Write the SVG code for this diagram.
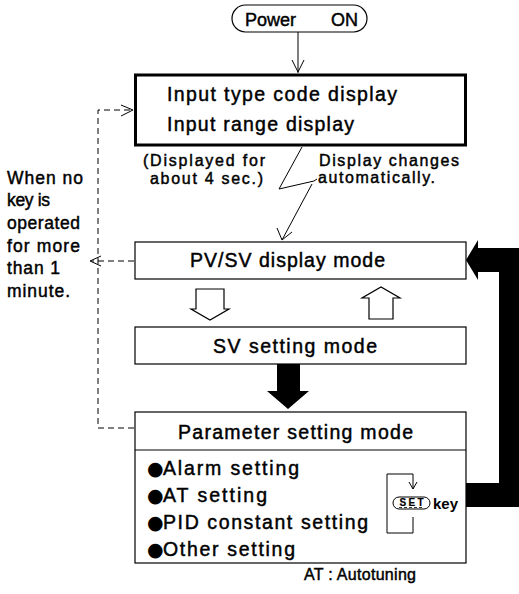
<svg xmlns="http://www.w3.org/2000/svg" width="519" height="594" viewBox="0 0 519 594">
<style>
text{font-family:"Liberation Sans",Arial,sans-serif;fill:#000;stroke:#000;stroke-width:0.45}
.b{font-size:19.5px}
.p{font-size:18px}
.s{font-size:16px}
.l{font-size:17.5px}
.dot{font-family:"DejaVu Sans",sans-serif;font-size:19px;stroke-width:0}
.box{fill:#fff;stroke:#000;stroke-width:1.2}
.ln{fill:none;stroke:#000;stroke-width:1}
.dash{fill:none;stroke:#000;stroke-width:1;stroke-dasharray:6 4}
.hollow{fill:#fff;stroke:#000;stroke-width:1.2}
</style>
<rect width="519" height="594" fill="#fff"/>
<g id="power-on">
<rect x="232" y="5" width="135" height="27" rx="13.5" class="box"/>
<text class="p" y="26"><tspan x="245">Power</tspan><tspan> </tspan><tspan x="331">ON</tspan></text>
</g>
<g id="input-display">
<rect x="135.5" y="75" width="330" height="70" fill="#fff" stroke="#000" stroke-width="3"/>
<text class="b" x="167" y="101" textLength="230" lengthAdjust="spacing">Input type code display</text>
<text class="b" x="167" y="131" textLength="187" lengthAdjust="spacing">Input range display</text>
</g>
<g id="notes">
<text class="s" x="143" y="166" textLength="122" lengthAdjust="spacing">(Displayed for</text>
<text class="s" x="150" y="184" textLength="113" lengthAdjust="spacing">about 4 sec.)</text>
<text class="s" x="319" y="166" textLength="140" lengthAdjust="spacing">Display changes</text>
<text class="s" x="318" y="183" textLength="117" lengthAdjust="spacing">automatically.</text>
</g>
<g id="timeout-note">
<text class="l" x="7" y="184" textLength="76" lengthAdjust="spacing">When no</text>
<text class="l" x="7" y="206" textLength="43" lengthAdjust="spacing">key is</text>
<text class="l" x="7" y="229" textLength="73" lengthAdjust="spacing">operated</text>
<text class="l" x="7" y="252" textLength="73" lengthAdjust="spacing">for more</text>
<text class="l" x="7" y="274" textLength="53" lengthAdjust="spacing">than 1</text>
<text class="l" x="7" y="297" textLength="63" lengthAdjust="spacing">minute.</text>
</g>
<g id="pv-sv-display">
<rect x="135" y="242" width="331" height="37" class="box"/>
<text class="b" x="190" y="267" textLength="195" lengthAdjust="spacing">PV/SV display mode</text>
</g>
<g id="sv-setting">
<rect x="135" y="327" width="331" height="37" class="box"/>
<text class="b" x="213" y="353" textLength="164" lengthAdjust="spacing">SV setting mode</text>
</g>
<g id="parameter-setting">
<rect x="135" y="412" width="331" height="151" class="box"/>
<line x1="135" y1="450" x2="466" y2="450" stroke="#000" stroke-width="1"/>
<text class="b" x="178" y="439" textLength="235" lengthAdjust="spacing">Parameter setting mode</text>
<text class="b" y="475"><tspan class="dot" x="147">●</tspan><tspan x="163" textLength="136" lengthAdjust="spacing">Alarm setting</tspan></text>
<text class="b" y="502"><tspan class="dot" x="147">●</tspan><tspan x="163" textLength="104" lengthAdjust="spacing">AT setting</tspan></text>
<text class="b" y="529"><tspan class="dot" x="147">●</tspan><tspan x="163" textLength="205" lengthAdjust="spacing">PID constant setting</tspan></text>
<text class="b" y="556"><tspan class="dot" x="147">●</tspan><tspan x="163" textLength="132" lengthAdjust="spacing">Other setting</tspan></text>
</g>
<g id="set-key">
<path class="ln" d="M413 489 V474 H387 V533 H413 V517"/>
<path class="ln" d="M409 482 L413 489 L417 482"/>
<rect x="393" y="497" width="37" height="12" rx="6" fill="#fff" stroke="#000" stroke-width="1"/>
<line x1="399" y1="507.5" x2="424" y2="507.5" stroke="#000" stroke-width="0.8" stroke-dasharray="3 2"/>
<text x="411.5" y="506" text-anchor="middle" style="font-size:10px;font-weight:bold;stroke-width:0.2" textLength="24" lengthAdjust="spacing">SET</text>
<text x="433" y="509" style="font-size:15px;font-weight:bold;stroke-width:0" textLength="25" lengthAdjust="spacing">key</text>
</g>
<g id="legend">
<text class="s" x="304" y="580" textLength="112" lengthAdjust="spacing">AT : Autotuning</text>
</g>
<g id="connectors">
<path class="ln" d="M298 32 V73 M292 60 L298 72 L304 60"/>
<path class="ln" d="M302 147 L279 189 L314 181 L317 179 M312 184 L282 240 M277 228 L282 240 L292 232"/>
<path class="dash" d="M134 428 H98 V110 H131"/>
<path class="ln" d="M121 105 L133 110 L121 116"/>
<path class="dash" d="M134 261 H92"/>
<path class="ln" d="M101 256 L90 261 L101 266"/>
<path class="hollow" d="M196 289 H224 V309 H229 L210 320 L191 309 H196 Z"/>
<path class="hollow" d="M369 319 V298 H362 L381 287 L400 298 H393 V319 Z"/>
<path fill="#000" d="M277 364 H300 V391 H309 L288 409 L267 391 H277 Z"/>
<path fill="#000" d="M466 260 L478 240 V248 H519 V507 H466 V483 H499 V272 H478 V280 Z"/>
</g>
</svg>
